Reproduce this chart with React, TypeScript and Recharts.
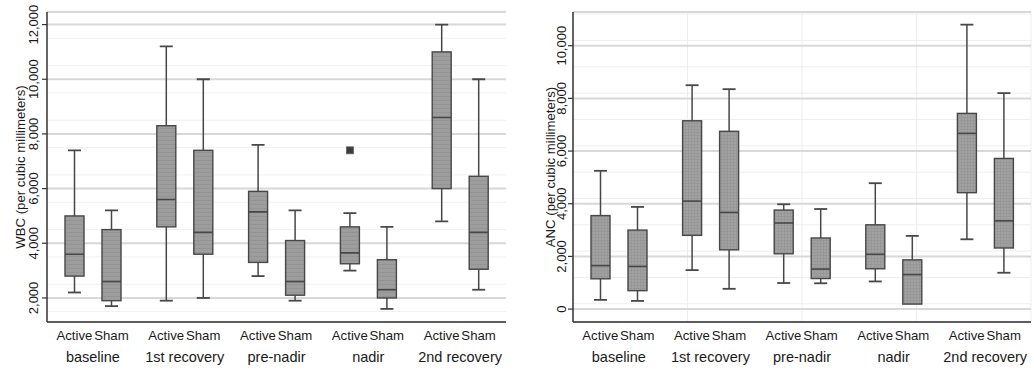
import React from 'react';
import { ComposedChart, Bar, XAxis, YAxis, CartesianGrid } from 'recharts';

const categories = ['baseline', '1st recovery', 'pre-nadir', 'nadir', '2nd recovery'];
const groupLabels = ['Active', 'Sham'];

const wbcTicks = [2000, 4000, 6000, 8000, 10000, 12000];
const ancTicks = [0, 2000, 4000, 6000, 8000, 10000];

// WBC (left panel)
const wbcActiveMin = [2200, 1900, 2800, 3000, 4800];
const wbcActiveQ1 = [2800, 4600, 3300, 3250, 6000];
const wbcActiveMed = [3600, 5600, 5150, 3650, 8600];
const wbcActiveQ3 = [5000, 8300, 5900, 4600, 11000];
const wbcActiveMax = [7400, 11200, 7600, 5100, 12000];
const wbcActiveOutlier = [null, null, null, 7400, null];
const wbcShamMin = [1700, 2000, 1900, 1600, 2300];
const wbcShamQ1 = [1900, 3600, 2100, 2000, 3050];
const wbcShamMed = [2600, 4400, 2600, 2300, 4400];
const wbcShamQ3 = [4500, 7400, 4100, 3400, 6450];
const wbcShamMax = [5200, 10000, 5200, 4600, 10000];

// ANC (right panel)
const ancActiveMin = [350, 1480, 990, 1050, 2650];
const ancActiveQ1 = [1150, 2800, 2100, 1530, 4420];
const ancActiveMed = [1650, 4100, 3270, 2080, 6670];
const ancActiveQ3 = [3550, 7150, 3760, 3200, 7430];
const ancActiveMax = [5250, 8500, 3980, 4780, 10800];
const ancActiveOutlier = [null, null, null, null, null];
const ancShamMin = [310, 770, 980, 190, 1380];
const ancShamQ1 = [700, 2250, 1160, 190, 2320];
const ancShamMed = [1620, 3670, 1520, 1310, 3350];
const ancShamQ3 = [3000, 6750, 2700, 1870, 5720];
const ancShamMax = [3880, 8350, 3800, 2780, 8200];

function buildRows(
  aMin: number[], aQ1: number[], aMed: number[], aQ3: number[], aMax: number[], aOut: (number | null)[],
  sMin: number[], sQ1: number[], sMed: number[], sQ3: number[], sMax: number[]
) {
  return categories.map((cat, i) => ({
    cat,
    aMin: aMin[i], aQ1: aQ1[i], aMed: aMed[i], aQ3: aQ3[i], aMax: aMax[i], aOut: aOut[i],
    sMin: sMin[i], sQ1: sQ1[i], sMed: sMed[i], sQ3: sQ3[i], sMax: sMax[i], sOut: null,
  }));
}

const wbcRows = buildRows(wbcActiveMin, wbcActiveQ1, wbcActiveMed, wbcActiveQ3, wbcActiveMax, wbcActiveOutlier,
  wbcShamMin, wbcShamQ1, wbcShamMed, wbcShamQ3, wbcShamMax);
const ancRows = buildRows(ancActiveMin, ancActiveQ1, ancActiveMed, ancActiveQ3, ancActiveMax, ancActiveOutlier,
  ancShamMin, ancShamQ1, ancShamMed, ancShamQ3, ancShamMax);

const BAR = 19;
const GAP = 18;
const HALF_PAIR = (BAR + GAP) / 2;
const FONT = '"Liberation Sans", Arial, Helvetica, sans-serif';
const LINE = '#474747';
const AXIS = '#333';

const makeBoxShape = (prefix: string, fillId: string) => (props: any) => {
  const { x, y, width, height, payload } = props;
  if (x == null || y == null || !payload) return <g />;
  const min = payload[prefix + 'Min'];
  const max = payload[prefix + 'Max'];
  const q1 = payload[prefix + 'Q1'];
  const med = payload[prefix + 'Med'];
  const q3 = payload[prefix + 'Q3'];
  const out = payload[prefix + 'Out'];
  const top = Math.min(y, y + height);
  const bot = Math.max(y, y + height);
  const py = (v: number) => (max === min ? bot : bot - ((v - min) / (max - min)) * (bot - top));
  const cx = x + width / 2;
  const cap = 6.5;
  return (
    <g>
      <line x1={cx} x2={cx} y1={py(max)} y2={py(q3)} stroke={LINE} strokeWidth={1.5} />
      <line x1={cx} x2={cx} y1={py(q1)} y2={py(min)} stroke={LINE} strokeWidth={1.5} />
      <line x1={cx - cap} x2={cx + cap} y1={py(max)} y2={py(max)} stroke={LINE} strokeWidth={1.8} />
      {min !== q1 && (
        <line x1={cx - cap} x2={cx + cap} y1={py(min)} y2={py(min)} stroke={LINE} strokeWidth={1.8} />
      )}
      <rect x={x} y={py(q3)} width={width} height={py(q1) - py(q3)} fill={`url(#${fillId})`} stroke={LINE} strokeWidth={1.4} />
      <line x1={x} x2={x + width} y1={py(med)} y2={py(med)} stroke={LINE} strokeWidth={1.6} />
      {out != null && (
        <rect x={cx - 3.5} y={py(out) - 3.5} width={7} height={7} fill="#3c3c3c" stroke="#666" strokeWidth={0.8} />
      )}
    </g>
  );
};

const XTick = (props: any) => {
  const { x, y, payload } = props;
  return (
    <g fontFamily={FONT}>
      <text x={x - HALF_PAIR} y={y + 18} textAnchor="middle" fontSize={13.2} fill="#1a1a1a">{groupLabels[0]}</text>
      <text x={x + HALF_PAIR} y={y + 18} textAnchor="middle" fontSize={13.2} fill="#1a1a1a">{groupLabels[1]}</text>
      <text x={x} y={y + 40} textAnchor="middle" fontSize={14.5} fill="#1a1a1a">{payload.value}</text>
    </g>
  );
};

const makeYTick = (offset: number) => (props: any) => {
  const { x, y, payload } = props;
  const cx = x - offset;
  return (
    <text
      transform={`translate(${cx},${y}) rotate(-90)`}
      textAnchor="middle"
      dy="0.36em"
      fontSize={13}
      fontFamily={FONT}
      fill="#1a1a1a"
    >
      {Number(payload.value).toLocaleString('en-US')}
    </text>
  );
};

const makeTitle = (title: string, fromRight: number) => (props: any) => {
  const vb = props.viewBox || {};
  const cx = vb.x + vb.width - fromRight;
  const cy = vb.y + vb.height / 2;
  return (
    <text
      transform={`translate(${cx},${cy}) rotate(-90)`}
      textAnchor="middle"
      dy="0.36em"
      fontSize={13.2}
      fontFamily={FONT}
      fill="#1a1a1a"
    >
      {title}
    </text>
  );
};

type PanelProps = {
  data: any[];
  width: number;
  yAxisWidth: number;
  marginRight: number;
  domain: [number, number];
  ticks: number[];
  minorTicks: number[];
  verticalMinor: boolean;
  fillId: string;
  title: string;
  tickOffset: number;
  titleFromRight: number;
};

const minorX = Array.from({ length: 89 }, (_, i) => i);

function Panel(p: PanelProps) {
  return (
    <ComposedChart
      width={p.width}
      height={372}
      data={p.data}
      margin={{ top: 12, right: p.marginRight, bottom: 0, left: 0 }}
      barSize={BAR}
      barGap={GAP}
    >
      <XAxis xAxisId="minor" type="number" domain={[0, 88]} ticks={minorX} hide allowDataOverflow />
      <YAxis yAxisId="minor" type="number" domain={p.domain} ticks={p.minorTicks} hide allowDataOverflow />
      <CartesianGrid
        xAxisId="minor"
        yAxisId="minor"
        vertical={p.verticalMinor}
        horizontal={true}
        stroke={p.verticalMinor ? '#eeeeee' : '#f0f0f0'}
        strokeWidth={1}
      />
      <CartesianGrid vertical={false} stroke="#d8d8d8" strokeWidth={2} />
      <XAxis
        dataKey="cat"
        interval={0}
        tickSize={0}
        tickMargin={0}
        height={50}
        tickLine={false}
        axisLine={{ stroke: AXIS, strokeWidth: 1.5 }}
        tick={<XTick />}
      />
      <YAxis
        type="number"
        domain={p.domain}
        ticks={p.ticks}
        allowDataOverflow
        width={p.yAxisWidth}
        tickSize={5}
        tickMargin={0}
        tickLine={{ stroke: AXIS, strokeWidth: 1.2 }}
        axisLine={{ stroke: AXIS, strokeWidth: 1.5 }}
        tick={makeYTick(p.tickOffset)}
        label={{ content: makeTitle(p.title, p.titleFromRight) } as any}
      />
      <Bar
        dataKey={(d: any) => [d.aMin, d.aMax]}
        shape={makeBoxShape('a', p.fillId)}
        isAnimationActive={false}
        name="Active"
      />
      <Bar
        dataKey={(d: any) => [d.sMin, d.sMax]}
        shape={makeBoxShape('s', p.fillId)}
        isAnimationActive={false}
        name="Sham"
      />
    </ComposedChart>
  );
}

const wbcMinor = Array.from({ length: 46 }, (_, i) => 1250 + i * 250);
const ancMinor = Array.from({ length: 59 }, (_, i) => -400 + i * 200);

export default function App() {
  return (
    <div
      style={{
        position: 'absolute',
        left: 0,
        top: 0,
        width: 1034,
        height: 372,
        background: '#fff',
        overflow: 'hidden',
        fontFamily: FONT,
      }}
    >
      <svg width={0} height={0} style={{ position: 'absolute' }}>
        <defs>
          <pattern id="boxStripe" patternUnits="userSpaceOnUse" width={4} height={4}>
            <rect width={4} height={4} fill="#9d9d9d" />
            <rect x={0} y={0} width={4} height={1} fill="#949494" />
          </pattern>
          <pattern id="boxGrid" patternUnits="userSpaceOnUse" width={3} height={3}>
            <rect width={3} height={3} fill="#a2a2a2" />
            <rect x={0} y={0} width={3} height={1} fill="#979797" />
            <rect x={0} y={0} width={1} height={3} fill="#979797" />
          </pattern>
        </defs>
      </svg>
      <div style={{ position: 'absolute', left: 0, top: 0 }}>
        <Panel
          data={wbcRows}
          width={514}
          yAxisWidth={47}
          marginRight={8}
          domain={[1120, 12460]}
          ticks={wbcTicks}
          minorTicks={wbcMinor}
          verticalMinor={false}
          fillId="boxStripe"
          title="WBC (per cubic millimeters)"
          tickOffset={9}
          titleFromRight={27}
        />
      </div>
      <div style={{ position: 'absolute', left: 514, top: 0 }}>
        <Panel
          data={ancRows}
          width={520}
          yAxisWidth={59}
          marginRight={3}
          domain={[-490, 11280]}
          ticks={ancTicks}
          minorTicks={ancMinor}
          verticalMinor={true}
          fillId="boxGrid"
          title="ANC (per cubic millimeters)"
          tickOffset={7}
          titleFromRight={23}
        />
      </div>
    </div>
  );
}
